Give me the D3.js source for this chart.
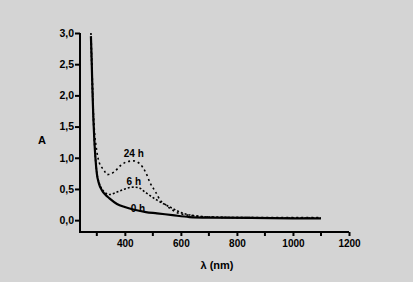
<!DOCTYPE html>
<html>
<head>
<meta charset="utf-8">
<script src="https://cdn.jsdelivr.net/npm/d3@7"></script>
<style>
  body { margin: 0; background: #d4d4d4; }
  svg { display: block; }
  text { font-family: "Liberation Sans", Arial, sans-serif; font-weight: bold; fill: #000; }
</style>
</head>
<body>
<svg id="chart" width="413" height="282"></svg>
<script>
// spectra: [wavelength nm, absorbance]
let spectrum0h = [
    [279, 2.95], [282, 2.5], [285, 2.0], [288, 1.6], [291, 1.3], [295, 1.0],
    [300, 0.75], [308, 0.58], [318, 0.48], [330, 0.41], [345, 0.35], [372, 0.26],
    [400, 0.21], [430, 0.17], [475, 0.13], [515, 0.11], [570, 0.08], [630, 0.05],
    [700, 0.04], [850, 0.035], [1000, 0.03], [1100, 0.03]
];
let spectrum6h = [
    [279, 2.9], [282, 2.45], [285, 2.0], [288, 1.6], [291, 1.3], [295, 1.0],
    [300, 0.76], [308, 0.6], [318, 0.5], [330, 0.44], [344, 0.41], [372, 0.45],
    [400, 0.5], [430, 0.53], [450, 0.52], [472, 0.45], [515, 0.32], [561, 0.21],
    [608, 0.11], [650, 0.07], [700, 0.05], [850, 0.04], [1000, 0.035], [1100, 0.035]
];
let spectrum24h = [
    [279, 3.0], [282, 2.6], [285, 2.1], [288, 1.7], [292, 1.4], [297, 1.2],
    [308, 0.93], [326, 0.8], [336, 0.73], [361, 0.77], [386, 0.88], [410, 0.94],
    [430, 0.95], [454, 0.9], [475, 0.76], [490, 0.6], [510, 0.45], [526, 0.32],
    [545, 0.25], [561, 0.19], [600, 0.1], [650, 0.07], [700, 0.05], [850, 0.04],
    [1000, 0.04], [1100, 0.04]
];
let curveLabels = [
    { text: "24 h", x: 432, y: 1.02 },
    { text: "6 h", x: 432, y: 0.57 },
    { text: "0 h", x: 447, y: 0.13 }
];
let yTicks = [0, 0.5, 1, 1.5, 2, 2.5, 3];
let xMajorTicks = [400, 600, 800, 1000, 1200];
let xMinorTicks = [300, 500, 700, 900, 1100];

let svg = d3.select("#chart");

let x = d3.scaleLinear().domain([240, 1200]).range([80, 349]);
let y = d3.scaleLinear().domain([-0.19, 3.0]).range([232, 33]);

let fmt = d => d3.format(".1f")(d).replace(".", ",");

// Y axis
let yAxis = svg.append("g")
    .attr("transform", "translate(80,0)")
    .call(d3.axisLeft(y).tickValues(yTicks).tickFormat(fmt).tickSize(5).tickSizeOuter(0));
yAxis.select(".domain").attr("stroke-width", 2).attr("d", "M0," + y(3.0) + "V232");
yAxis.selectAll(".tick line").attr("stroke-width", 2);
yAxis.selectAll(".tick text").attr("font-size", 10.5).attr("x", -6);

// X axis
let xAxis = svg.append("g")
    .attr("transform", "translate(0,232)")
    .call(d3.axisBottom(x).tickValues(xMajorTicks).tickFormat(d3.format("d")).tickSize(4).tickSizeOuter(0));
xAxis.select(".domain").attr("stroke-width", 2).attr("d", "M79,0H349");
xAxis.selectAll(".tick line").attr("stroke-width", 2);
xAxis.selectAll(".tick text").attr("font-size", 10).attr("y", 8);

svg.append("g")
    .selectAll("line")
    .data(xMinorTicks)
    .enter()
    .append("line")
    .attr("x1", d => x(d)).attr("x2", d => x(d))
    .attr("y1", 232).attr("y2", 236)
    .attr("stroke", "#000").attr("stroke-width", 2);

// axis titles
svg.append("text").attr("x", 42).attr("y", 144).attr("text-anchor", "middle")
    .attr("font-size", 11).text("A");
svg.append("text").attr("x", 217).attr("y", 269).attr("text-anchor", "middle")
    .attr("font-size", 11).text("λ (nm)");

// curves
let line = d3.line().x(d => x(d[0])).y(d => y(d[1])).curve(d3.curveMonotoneX);

svg.append("path").datum(spectrum24h).attr("d", line)
    .attr("fill", "none").attr("stroke", "#000").attr("stroke-width", 1.6)
    .attr("stroke-dasharray", "2,3");
svg.append("path").datum(spectrum6h).attr("d", line)
    .attr("fill", "none").attr("stroke", "#000").attr("stroke-width", 1.6)
    .attr("stroke-dasharray", "2,2");
svg.append("path").datum(spectrum0h).attr("d", line)
    .attr("fill", "none").attr("stroke", "#000").attr("stroke-width", 2.2);

svg.append("g")
    .selectAll("text")
    .data(curveLabels)
    .enter()
    .append("text")
    .attr("x", d => x(d.x)).attr("y", d => y(d.y))
    .attr("text-anchor", "middle").attr("font-size", 10)
    .text(d => d.text);
</script>
</body>
</html>
